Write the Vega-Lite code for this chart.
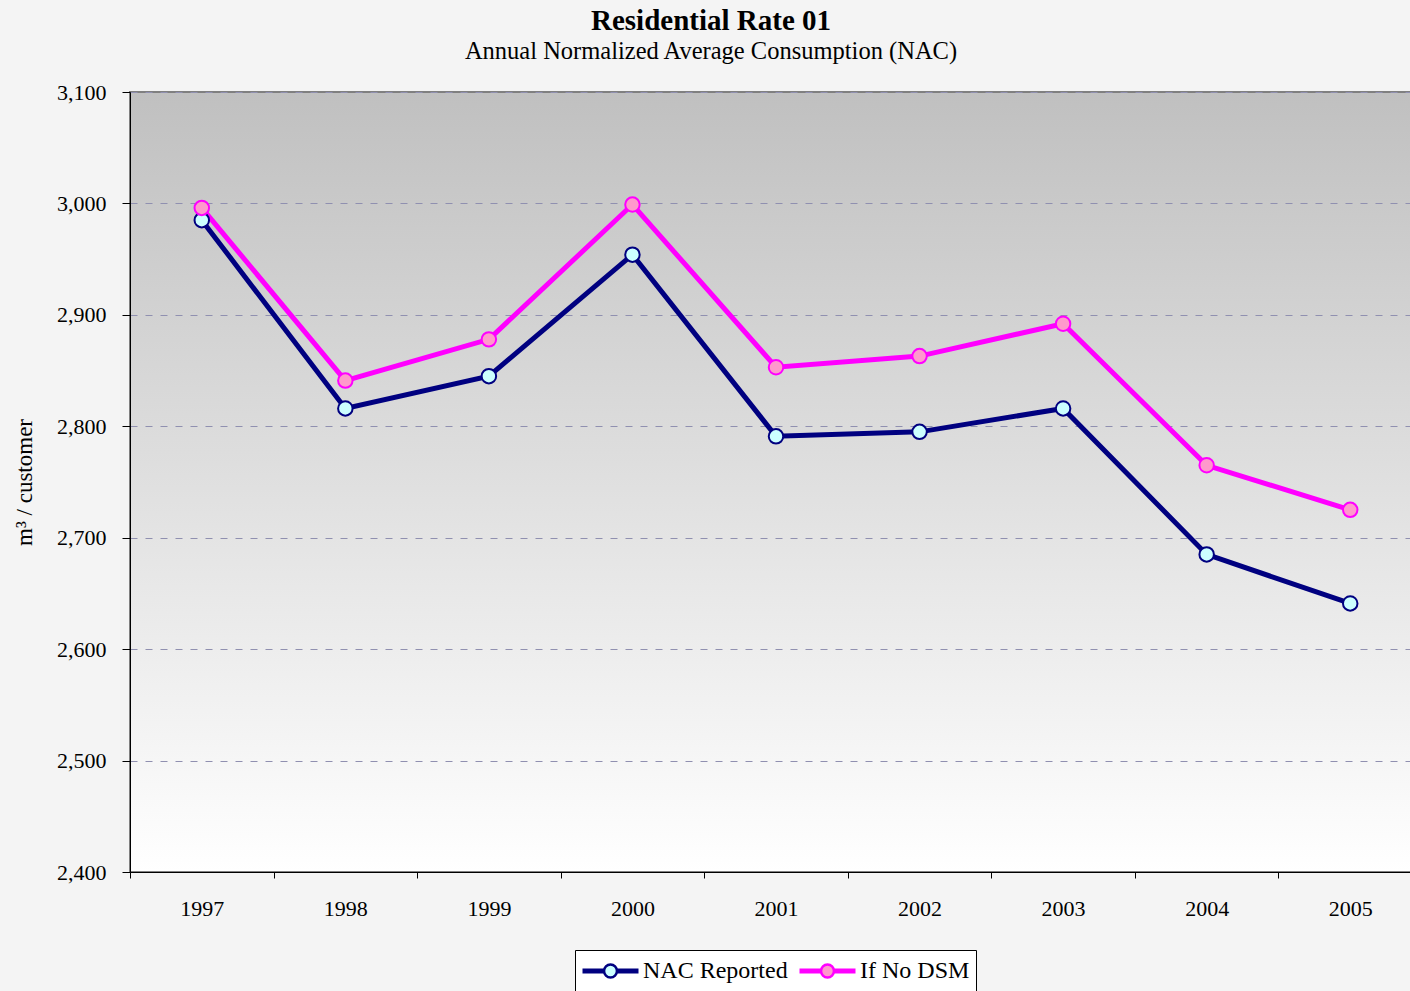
{
  "$schema": "https://vega.github.io/schema/vega-lite/v6.json",
  "width": 1292,
  "height": 780,
  "autosize": {"type": "none"},
  "padding": {"left": 130, "top": 92, "right": 0, "bottom": 119},
  "background": "#f4f4f4",
  "title": {
    "text": "Residential Rate 01",
    "subtitle": "Annual Normalized Average Consumption (NAC)",
    "font": "Liberation Serif",
    "fontSize": 29,
    "fontWeight": "bold",
    "color": "black",
    "subtitleFont": "Liberation Serif",
    "subtitleFontSize": 24.5,
    "subtitleColor": "black",
    "subtitlePadding": 4,
    "anchor": "middle",
    "frame": "group",
    "dx": -65,
    "offset": 18
  },
  "config": {
    "view": {
      "stroke": "#808080",
      "strokeWidth": 2,
      "fill": {
        "gradient": "linear",
        "x1": 0, "y1": 0, "x2": 0, "y2": 1,
        "stops": [
          {"offset": 0, "color": "#c0c0c0"},
          {"offset": 1, "color": "#ffffff"}
        ]
      }
    }
  },
  "data": {
    "values": [
      {"year": "1997", "series": "NAC Reported", "value": 2985},
      {"year": "1998", "series": "NAC Reported", "value": 2816},
      {"year": "1999", "series": "NAC Reported", "value": 2845},
      {"year": "2000", "series": "NAC Reported", "value": 2954},
      {"year": "2001", "series": "NAC Reported", "value": 2791},
      {"year": "2002", "series": "NAC Reported", "value": 2795},
      {"year": "2003", "series": "NAC Reported", "value": 2816},
      {"year": "2004", "series": "NAC Reported", "value": 2685},
      {"year": "2005", "series": "NAC Reported", "value": 2641},
      {"year": "1997", "series": "If No DSM", "value": 2996},
      {"year": "1998", "series": "If No DSM", "value": 2841},
      {"year": "1999", "series": "If No DSM", "value": 2878},
      {"year": "2000", "series": "If No DSM", "value": 2999},
      {"year": "2001", "series": "If No DSM", "value": 2853},
      {"year": "2002", "series": "If No DSM", "value": 2863},
      {"year": "2003", "series": "If No DSM", "value": 2892},
      {"year": "2004", "series": "If No DSM", "value": 2765},
      {"year": "2005", "series": "If No DSM", "value": 2725}
    ]
  },
  "encoding": {
    "x": {
      "field": "year",
      "type": "ordinal",
      "scale": {"type": "band", "paddingInner": 0, "paddingOuter": 0},
      "axis": {
        "title": null,
        "labelAngle": 0,
        "tickBand": "extent",
        "tickSize": 6,
        "labelPadding": 20,
        "domainColor": "black",
        "tickColor": "black",
        "labelFont": "Liberation Serif",
        "labelFontSize": 22,
        "labelColor": "black",
        "grid": false
      }
    },
    "y": {
      "field": "value",
      "type": "quantitative",
      "scale": {"domain": [2400, 3100], "nice": false, "zero": false},
      "axis": {
        "values": [2400, 2500, 2600, 2700, 2800, 2900, 3000, 3100],
        "format": ",.0f",
        "title": "m³ / customer",
        "titleFont": "Liberation Serif",
        "titleFontSize": 23,
        "titleFontWeight": "normal",
        "titleColor": "black",
        "titlePadding": 20,
        "labelFont": "Liberation Serif",
        "labelFontSize": 22,
        "labelColor": "black",
        "labelPadding": 16,
        "tickSize": 8,
        "tickColor": "black",
        "domainColor": "black",
        "grid": true,
        "gridColor": "#9090b0",
        "gridDash": [7, 8],
        "gridWidth": 1.2
      }
    }
  },
  "layer": [
    {
      "mark": {"type": "line", "strokeWidth": 5},
      "encoding": {
        "stroke": {
          "field": "series",
          "type": "nominal",
          "scale": {"domain": ["NAC Reported", "If No DSM"], "range": ["#000080", "#ff00ff"]},
          "legend": {
            "title": null,
            "orient": "none",
            "legendX": 445,
            "legendY": 858,
            "direction": "horizontal",
            "strokeColor": "black",
            "fillColor": "white",
            "padding": 6,
            "symbolType": "M-1,-0.045H-0.23M-1,0.045H-0.23M-1,0H-0.23M0.23,-0.045H1M0.23,0.045H1M0.23,0H1M-0.23,0A0.23,0.23 0 1,1 0.23,0A0.23,0.23 0 1,1 -0.23,0Z",
            "symbolSize": 3136,
            "symbolStrokeWidth": 2.5,
            "symbolOpacity": 1,
            "clipHeight": 30,
            "labelFont": "Liberation Serif",
            "labelFontSize": 24,
            "labelColor": "black",
            "labelOffset": 3,
            "columnPadding": 10
          }
        }
      }
    },
    {
      "mark": {"type": "point", "shape": "circle", "size": 210, "strokeWidth": 2, "opacity": 1, "fillOpacity": 1},
      "encoding": {
        "stroke": {"field": "series", "type": "nominal"},
        "fill": {
          "field": "series",
          "type": "nominal",
          "scale": {"domain": ["NAC Reported", "If No DSM"], "range": ["#ccffff", "#ff99cc"]}
        }
      }
    }
  ]
}
